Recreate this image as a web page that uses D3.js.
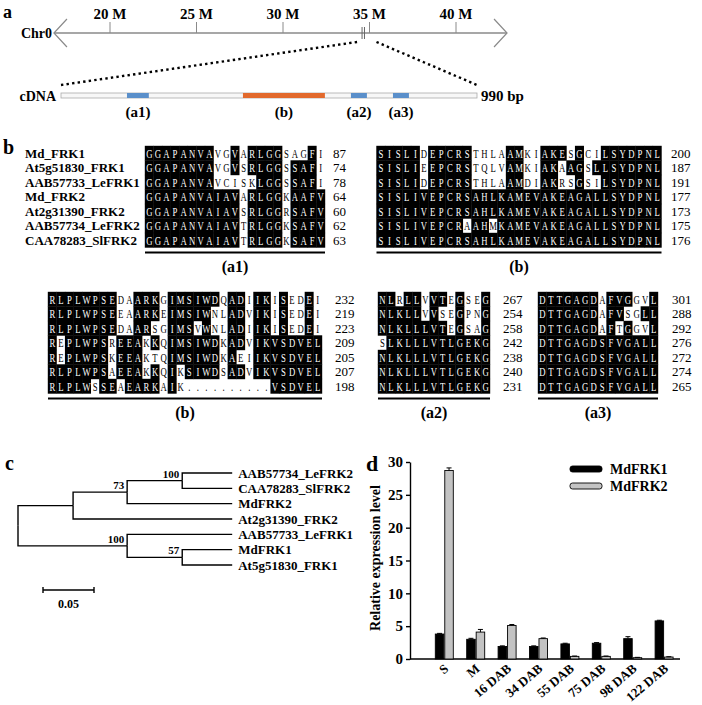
<!DOCTYPE html>
<html><head><meta charset="utf-8">
<script src="https://cdn.jsdelivr.net/npm/d3@7"></script>
<style>body{margin:0;background:#fff}svg{display:block}</style>
</head><body>
<svg id="fig" width="702" height="705"></svg>
<script>
// ---------------- DATA ----------------
// Panel a
const chrTicks = [20, 25, 30, 35, 40];
const chrTickLabels = ["20 M", "25 M", "30 M", "35 M", "40 M"];
const chrExtent = [16.76, 42.95];
const geneMarks = [34.57, 34.71];
const cdnaLength = 990;
const cdnaSegNames = ["(a1)", "(b)", "(a2)", "(a3)"];
const cdnaSegStart = [157, 433, 690, 790];
const cdnaSegEnd = [209, 628, 728, 828];

// Panel b (uppercase = shaded residue, lowercase = unshaded)
const seqNames = ["Md_FRK1", "At5g51830_FRK1", "AAB57733_LeFRK1", "Md_FRK2", "At2g31390_FRK2", "AAB57734_LeFRK2", "CAA78283_SlFRK2"];
const blockA1 = ["GGAPANVAvgVaRLGGsagFi", "GGAPANVAvgVsRLGGsSAFi", "GGAPANVAvciskLGGsSAFi", "GGAPANVAIAVaRLGGkAAFV", "GGAPANVAIAVsRLGGrSAFV", "GGAPANVAIAVtRLGGkSAFV", "GGAPANVAIAVtRLGGkSAFV"];
const endsA1 = [87, 74, 78, 64, 60, 62, 63];
const blockB1 = ["SISLIdEPCRSthlaAMkiAKEsGciLSYDPNL", "SISLIeEPCRStqlvAMkiAKaAGsLLSYDPNL", "SISLIdEPCRSthlaAMdiAKrsGsiLSYDPNL", "SISLIVEPCRSAHLKAMEVAKEAGALLSYDPNL", "SISLIVEPCRSAHLKAMEVAKEAGALLSYDPNL", "SISLIVEPCRaAHmKAMEVAKEAGALLSYDPNL", "SISLIVEPCRSAHLKAMEVAKEAGALLSYDPNL"];
const endsB1 = [200, 187, 191, 177, 173, 175, 176];
const blockB2 = ["RLPLWPSEdaARKgIMSIWDqADiIKiSedEi", "RLPLWPSEeaARKeIMSIWnlADvIKiSedEi", "RLPLWPSEdaARsgIMSvWnlADiIKiSedEi", "RePLWPSrEEAkKqIMSIWDkADvIKVSDVEL", "RePLWPSkEEAktqIMSIWDkAeiIKVSDVEL", "RLPLWPSaEEAkKqIkSIWDsADvIKVSDVEL", "RLPLWsSEaEARKaIk..........VSDVEL"];
const endsB2 = [232, 219, 223, 209, 205, 207, 198];
const blockA2 = ["NLrLLvVTeGseG", "NLKLLvVseGpnG", "NLKLLLVTeGsaG", "sLKLLLVTLGEKG", "NLKLLLVTLGEKG", "NLKLLLVTLGEKG", "NLKLLLVTLGEKG"];
const endsA2 = [267, 254, 258, 242, 238, 240, 231];
const blockA3 = ["DTTGAGDaFVGgvL", "DTTGAGDaFVsgLL", "DTTGAGDaFtGgvL", "DTTGAGDSFVGALL", "DTTGAGDSFVGALL", "DTTGAGDSFVGALL", "DTTGAGDSFVGALL"];
const endsA3 = [301, 288, 292, 276, 272, 274, 265];

// Panel c (branch lengths, bootstrap support)
const treeData = {children: [
  {len: 0.054, children: [
    {len: 0.053, support: 73, children: [
      {len: 0.054, support: 100, children: [
        {name: "AAB57734_LeFRK2", len: 0.049},
        {name: "CAA78283_SlFRK2", len: 0.049}]},
      {name: "MdFRK2", len: 0.103}]},
    {name: "At2g31390_FRK2", len: 0.156}]},
  {len: 0.107, support: 100, children: [
    {name: "AAB57733_LeFRK1", len: 0.103},
    {len: 0.054, support: 57, children: [
      {name: "MdFRK1", len: 0.049},
      {name: "At5g51830_FRK1", len: 0.049}]}]}
]};
const scaleBarValue = 0.05;

// Panel d
const stages = ["S", "M", "16 DAB", "34 DAB", "55 DAB", "75 DAB", "98 DAB", "122 DAB"];
const seriesNames = ["MdFRK1", "MdFRK2"];
const frk1 = [3.8, 3.0, 1.9, 1.9, 2.3, 2.4, 3.1, 5.8];
const frk1Err = [0.1, 0.15, 0.1, 0.1, 0.1, 0.1, 0.3, 0.1];
const frk2 = [28.7, 4.1, 5.1, 3.1, 0.4, 0.4, 0.2, 0.3];
const frk2Err = [0.4, 0.4, 0.15, 0.1, 0.05, 0.05, 0.05, 0.05];
const yTicks = [0, 5, 10, 15, 20, 25, 30];

// ---------------- DRAWING ----------------
const serif = "'Liberation Serif','Times New Roman',serif";
const svg = d3.select("#fig").attr("font-family", serif);

function label(g, x, y, t, size, opts = {}) {
  return g.append("text").attr("x", x).attr("y", y).text(t)
    .attr("font-size", size).attr("font-weight", opts.weight || "bold")
    .attr("text-anchor", opts.anchor || "start").attr("fill", opts.fill || "#000");
}

// ===== Panel a =====
const gA = svg.append("g");
label(gA, 3, 17.5, "a", 18);
const xChr = d3.scaleLinear().domain([20, 40]).range([110, 456]);
const axY = 33;
gA.append("line").attr("x1", xChr(chrExtent[0])).attr("x2", xChr(chrExtent[1]))
  .attr("y1", axY).attr("y2", axY).attr("stroke", "#8a8a8a").attr("stroke-width", 1.4);
const lx = xChr(chrExtent[0]), rx = xChr(chrExtent[1]);
gA.append("path").attr("d", `M${lx + 13},${axY - 14}L${lx},${axY}L${lx + 13},${axY + 14}`)
  .attr("fill", "none").attr("stroke", "#8a8a8a").attr("stroke-width", 1.2);
gA.append("path").attr("d", `M${rx - 13},${axY - 14}L${rx},${axY}L${rx - 13},${axY + 14}`)
  .attr("fill", "none").attr("stroke", "#8a8a8a").attr("stroke-width", 1.2);
gA.selectAll("line.tk").data(chrTicks).join("line").attr("class", "tk")
  .attr("x1", d => xChr(d)).attr("x2", d => xChr(d)).attr("y1", axY - 11).attr("y2", axY)
  .attr("stroke", "#8a8a8a").attr("stroke-width", 1);
gA.selectAll("text.tl").data(chrTicks).join("text").attr("class", "tl")
  .attr("x", d => xChr(d)).attr("y", 19).attr("text-anchor", "middle")
  .attr("font-size", 15).attr("font-weight", "bold").text((d, i) => chrTickLabels[i]);
gA.selectAll("line.gm").data(geneMarks).join("line").attr("class", "gm")
  .attr("x1", d => xChr(d)).attr("x2", d => xChr(d)).attr("y1", axY - 6).attr("y2", axY + 6)
  .attr("stroke", "#666").attr("stroke-width", 1);
label(gA, 52, 38, "Chr0", 14, {anchor: "end"});

const xC = d3.scaleLinear().domain([0, cdnaLength]).range([61, 477]);
const cY = 93, cH = 5;
gA.append("line").attr("x1", xChr(geneMarks[0]) - 5).attr("y1", 42).attr("x2", xC(0)).attr("y2", 85)
  .attr("stroke", "#000").attr("stroke-width", 2.4).attr("stroke-dasharray", "2.4,3.2");
gA.append("line").attr("x1", xChr(geneMarks[1]) + 12).attr("y1", 42).attr("x2", xC(cdnaLength)).attr("y2", 85)
  .attr("stroke", "#000").attr("stroke-width", 2.4).attr("stroke-dasharray", "2.4,3.2");
gA.append("rect").attr("x", xC(0)).attr("y", cY).attr("width", xC(cdnaLength) - xC(0)).attr("height", cH)
  .attr("fill", "#f7f7f7").attr("stroke", "#aaa").attr("stroke-width", 0.8);
const segColor = ["#5a8fca", "#e2692c", "#5a8fca", "#5a8fca"];
gA.selectAll("rect.seg").data(cdnaSegStart).join("rect").attr("class", "seg")
  .attr("x", d => xC(d)).attr("y", cY).attr("height", cH)
  .attr("width", (d, i) => xC(cdnaSegEnd[i]) - xC(d)).attr("fill", (d, i) => segColor[i]);
gA.selectAll("text.sl").data(cdnaSegStart).join("text").attr("class", "sl")
  .attr("x", (d, i) => (xC(d) + xC(cdnaSegEnd[i])) / 2).attr("y", 117).attr("text-anchor", "middle")
  .attr("font-size", 15).attr("font-weight", "bold").text((d, i) => cdnaSegNames[i]);
label(gA, 56, 101, "cDNA", 14, {anchor: "end"});
label(gA, 481, 101, cdnaLength + " bp", 15);

// ===== Panel b =====
const gB = svg.append("g");
label(gB, 3, 154, "b", 20);
const rowTop1 = 146, rowTop2 = 292, rowH = 14.5;
const yRow1 = d3.scaleBand().domain(d3.range(7)).range([rowTop1, rowTop1 + 7 * rowH]);
const yRow2 = d3.scaleBand().domain(d3.range(7)).range([rowTop2, rowTop2 + 7 * rowH]);

gB.selectAll("text.nm").data(seqNames).join("text").attr("class", "nm")
  .attr("x", 25).attr("y", (d, i) => yRow1(i) + rowH / 2 + 4.4)
  .attr("font-size", 13).attr("font-weight", "bold").text(d => d);

function drawBlock(seqs, ends, x0, x1, yRow, numX, name) {
  const n = seqs[0].length;
  const xb = d3.scaleBand().domain(d3.range(n)).range([x0, x1]);
  const g = gB.append("g");
  const cells = [];
  seqs.forEach((s, r) => s.split("").forEach((ch, c) => cells.push({r, c, ch})));
  g.selectAll("rect").data(cells.filter(d => /[A-Z]/.test(d.ch))).join("rect")
    .attr("x", d => xb(d.c) - 0.2).attr("y", d => yRow(d.r) - 0.2)
    .attr("width", xb.bandwidth() + 0.4).attr("height", yRow.bandwidth() + 0.4).attr("fill", "#000");
  const rh = yRow.bandwidth();
  g.selectAll("text").data(cells).join("text")
    .attr("transform", d => `translate(${xb(d.c) + xb.bandwidth() / 2},${yRow(d.r) + rh / 2 + 4.4}) scale(0.68,1)`)
    .attr("text-anchor", "middle").attr("font-size", 12.8)
    .attr("fill", d => /[A-Z]/.test(d.ch) ? "#fff" : "#000")
    .text(d => d.ch.toUpperCase());
  gB.selectAll(null).data(ends).join("text")
    .attr("x", numX).attr("y", (d, i) => yRow(i) + rh / 2 + 4.6)
    .attr("font-size", 13).text(d => d);
  const uy = yRow.range()[1] + 5;
  gB.append("line").attr("x1", x0).attr("x2", x1).attr("y1", uy).attr("y2", uy)
    .attr("stroke", "#000").attr("stroke-width", 2.2);
  label(gB, (x0 + x1) / 2, uy + 19, name, 16, {anchor: "middle"});
}
drawBlock(blockA1, endsA1, 145, 325, yRow1, 333, "(a1)");
drawBlock(blockB1, endsB1, 376.5, 661.5, yRow1, 671, "(b)");
drawBlock(blockB2, endsB2, 48, 322, yRow2, 335, "(b)");
drawBlock(blockA2, endsA2, 378, 490, yRow2, 503, "(a2)");
drawBlock(blockA3, endsA3, 538, 658, yRow2, 672, "(a3)");

// ===== Panel c =====
const gC = svg.append("g");
label(gC, 5, 470, "c", 20);
const root = d3.hierarchy(treeData);
root.each(d => { d.dist = (d.parent ? d.parent.dist : 0) + (d.data.len || 0); });
const leaves = root.leaves();
const xT = d3.scaleLinear().domain([0, 1]).range([18, 18 + 1020]);
const yT = d3.scalePoint().domain(leaves.map(d => d.data.name)).range([473, 565]);
leaves.forEach(l => l.yy = yT(l.data.name));
root.eachAfter(d => { if (d.children) d.yy = d3.mean([d.children[0].yy, d.children[d.children.length - 1].yy]); });
const links = root.descendants().filter(d => d.parent);
gC.selectAll("path.br").data(links).join("path").attr("class", "br")
  .attr("d", d => `M${xT(d.parent.dist)},${d.parent.yy}V${d.yy}H${xT(d.dist)}`)
  .attr("fill", "none").attr("stroke", "#000").attr("stroke-width", 1.4);
gC.selectAll("text.lf").data(leaves).join("text").attr("class", "lf")
  .attr("x", d => xT(d.dist) + 6).attr("y", d => d.yy + 4.5)
  .attr("font-size", 13).attr("font-weight", "bold").text(d => d.data.name);
gC.selectAll("text.bs").data(root.descendants().filter(d => d.data.support)).join("text").attr("class", "bs")
  .attr("x", d => xT(d.dist) - 3).attr("y", d => d.yy - 3).attr("text-anchor", "end")
  .attr("font-size", 11).attr("font-weight", "bold").text(d => d.data.support);
const sbX = 43, sbY = 590;
gC.append("path").attr("d", `M${sbX},${sbY - 3}V${sbY + 3}M${sbX},${sbY}H${sbX + xT(scaleBarValue) - xT(0)}M${sbX + xT(scaleBarValue) - xT(0)},${sbY - 3}V${sbY + 3}`)
  .attr("stroke", "#000").attr("stroke-width", 1.4).attr("fill", "none");
label(gC, sbX + (xT(scaleBarValue) - xT(0)) / 2, 608, String(scaleBarValue), 12, {anchor: "middle"});

// ===== Panel d =====
const gD = svg.append("g");
label(gD, 366, 471, "d", 22);
const y = d3.scaleLinear().domain([0, 30]).range([659, 462]);
const x0 = d3.scaleBand().domain(stages).range([428.6, 679.8]);
const x1 = d3.scaleBand().domain(seriesNames).range([-9, 9]).paddingInner(0.1);
const yAxis = gD.append("g").attr("transform", "translate(410,0)")
  .call(d3.axisLeft(y).tickValues(yTicks).tickSize(4).tickSizeOuter(0).tickPadding(3));
yAxis.selectAll("text").attr("font-size", 15).attr("font-weight", "bold").attr("font-family", serif);
yAxis.selectAll("line,path").attr("stroke", "#000").attr("stroke-width", 1.4);
gD.append("line").attr("x1", 410).attr("x2", 680).attr("y1", y(0)).attr("y2", y(0))
  .attr("stroke", "#000").attr("stroke-width", 1.6);
const bars = [];
stages.forEach((s, i) => {
  bars.push({s, k: "MdFRK1", v: frk1[i], e: frk1Err[i]});
  bars.push({s, k: "MdFRK2", v: frk2[i], e: frk2Err[i]});
});
const fillOf = {MdFRK1: "#000", MdFRK2: "#c3c3c3"};
gD.selectAll("rect.bar").data(bars).join("rect").attr("class", "bar")
  .attr("x", d => x0(d.s) + x0.bandwidth() / 2 + x1(d.k)).attr("width", x1.bandwidth())
  .attr("y", d => y(d.v)).attr("height", d => y(0) - y(d.v))
  .attr("fill", d => fillOf[d.k]).attr("stroke", "#000").attr("stroke-width", 0.9);
const eb = gD.selectAll("g.eb").data(bars).join("g").attr("class", "eb")
  .attr("transform", d => `translate(${x0(d.s) + x0.bandwidth() / 2 + x1(d.k) + x1.bandwidth() / 2},0)`);
eb.append("line").attr("y1", d => y(d.v)).attr("y2", d => y(d.v + d.e)).attr("stroke", "#000").attr("stroke-width", 1);
eb.append("line").attr("x1", -2.5).attr("x2", 2.5).attr("y1", d => y(d.v + d.e)).attr("y2", d => y(d.v + d.e))
  .attr("stroke", "#000").attr("stroke-width", 1);
gD.selectAll("text.xl").data(stages).join("text").attr("class", "xl")
  .attr("transform", d => `translate(${x0(d) + x0.bandwidth() / 2 + 5},${y(0) + 11}) rotate(-40)`)
  .attr("text-anchor", "end").attr("font-size", 13).attr("font-weight", "bold").text(d => d);
gD.append("text").attr("transform", `translate(380,558) rotate(-90)`).attr("text-anchor", "middle")
  .attr("font-size", 14).attr("font-weight", "bold").text("Relative expression level");
const lg = gD.selectAll("g.lg").data(seriesNames).join("g").attr("class", "lg")
  .attr("transform", (d, i) => `translate(570,${466 + i * 17})`);
lg.append("rect").attr("width", 32).attr("height", 6).attr("rx", 2.5)
  .attr("fill", d => fillOf[d]).attr("stroke", "#000").attr("stroke-width", 0.9);
lg.append("text").attr("x", 40).attr("y", 8).attr("font-size", 14).attr("font-weight", "bold").text(d => d);
</script>
</body></html>
